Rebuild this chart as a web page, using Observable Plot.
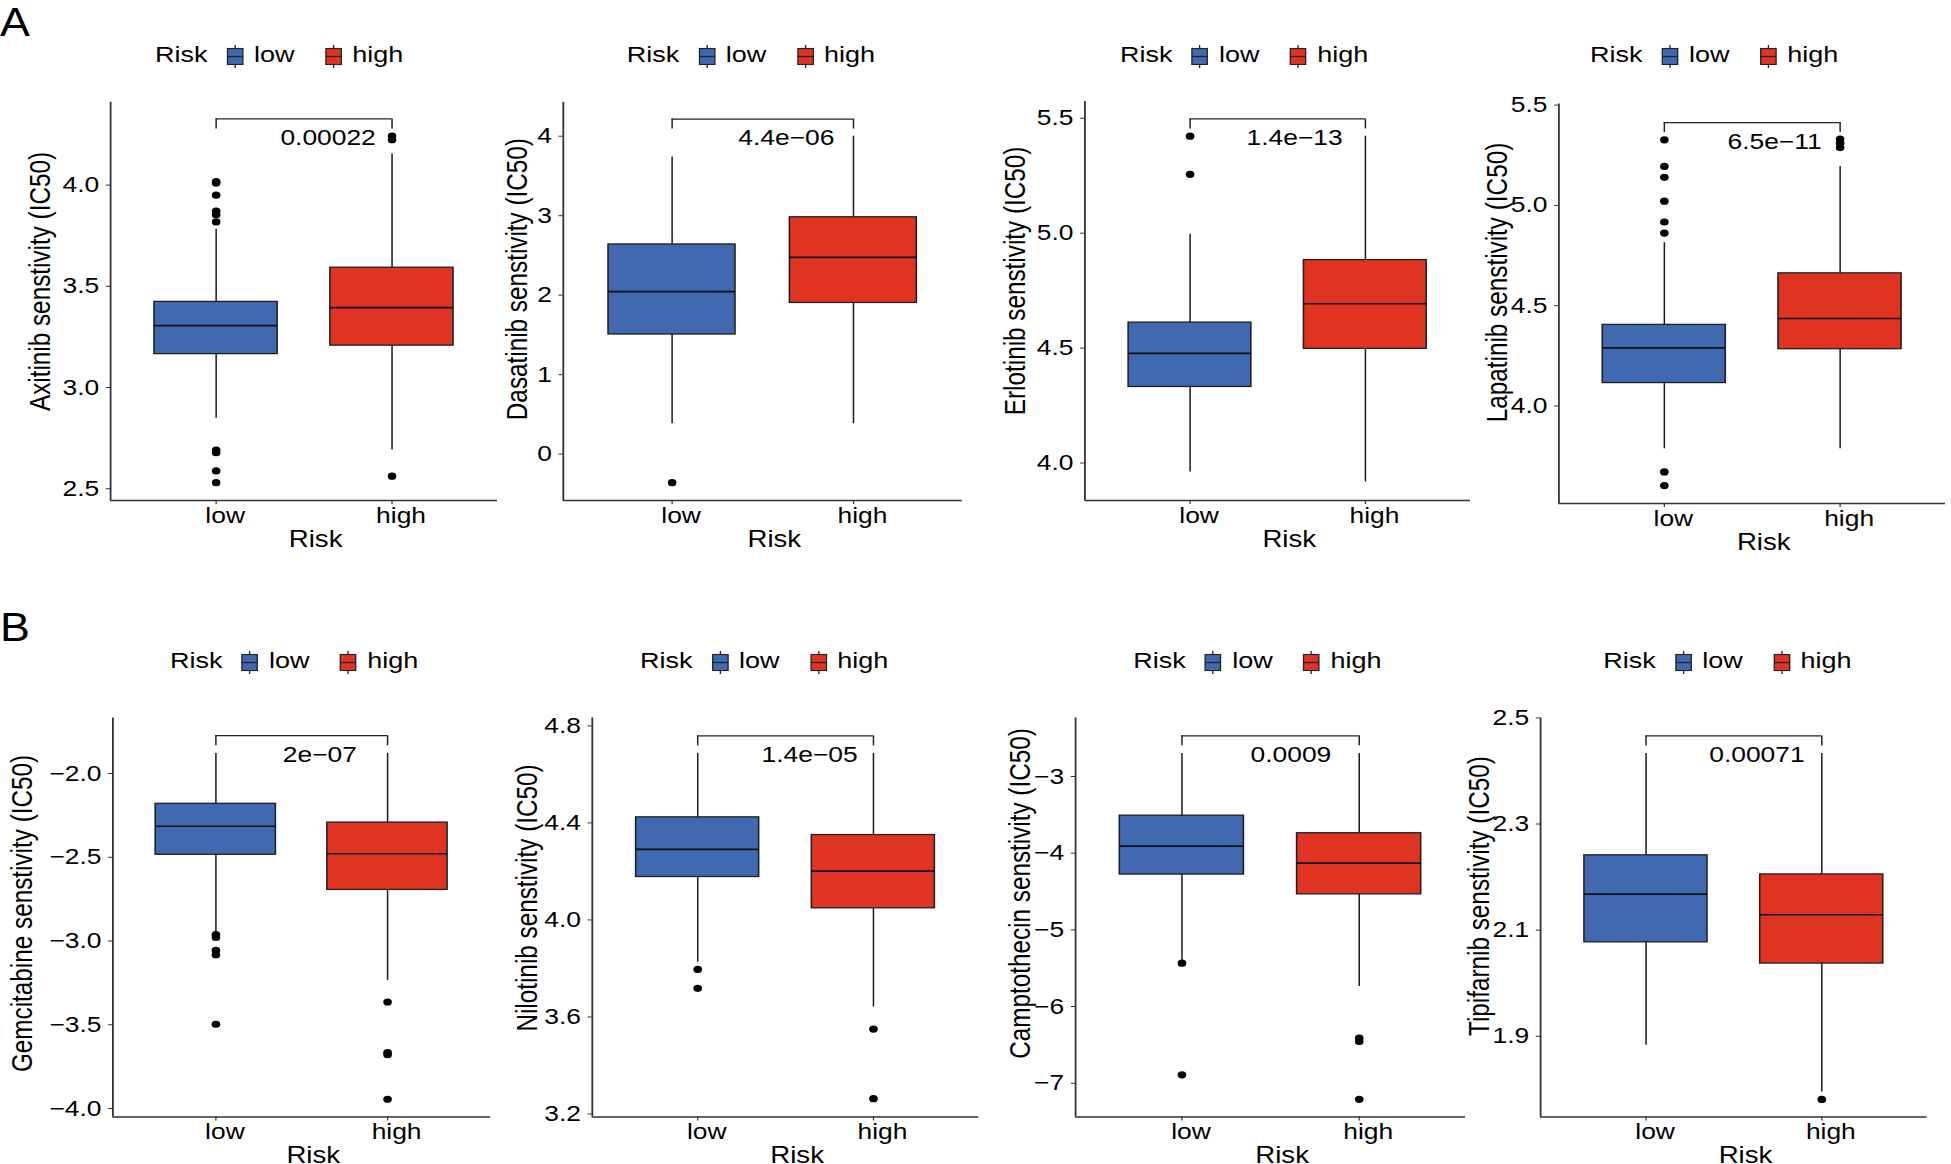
<!DOCTYPE html>
<html>
<head>
<meta charset="utf-8">
<script src="https://cdn.jsdelivr.net/npm/d3@7"></script>
<script src="https://cdn.jsdelivr.net/npm/@observablehq/plot@0.6"></script>
<style>
  html, body { margin: 0; padding: 0; background: #fff; }
  body { width: 1951px; height: 1164px; position: relative; overflow: hidden;
         font-family: "Liberation Sans", Arial, Helvetica, sans-serif; color: #000; }
  .panel { position: absolute; top: 0; height: 1164px; transform-origin: 0 0; }
  .panel svg.plotsvg { position: absolute; left: 0; max-width: none; overflow: visible; }
  .legend { position: absolute; height: 30px; font-size: 22.5px; line-height: 30px; white-space: nowrap; }
  .legend span { position: absolute; top: 0; }
  .legend svg { position: absolute; overflow: visible; }
  .tag { position: absolute; left: 0; font-size: 40px; line-height: 40px; transform: scaleX(1.12); transform-origin: 0 0; }
</style>
</head>
<body>
<div class="tag" style="top:2px">A</div>
<div class="tag" style="top:607px">B</div>
<script>
// ---------------- data ----------------
const drugs = ["Axitinib", "Dasatinib", "Erlotinib", "Lapatinib",
               "Gemcitabine", "Nilotinib", "Camptothecin", "Tipifarnib"];
const riskGroups = ["low", "high"];
const pLabels = ["0.00022", "4.4e\u221206", "1.4e\u221213", "6.5e\u221211",
                 "2e\u221207", "1.4e\u221205", "0.0009", "0.00071"];

const lowQ1          = [3.165, 1.505, 4.331, 4.114, -2.485, 4.177, -4.279, 2.077];
const lowMedian      = [3.306, 2.044, 4.477, 4.289, -2.315, 4.291, -3.907, 2.168];
const lowQ3          = [3.423, 2.638, 4.611, 4.404, -2.181, 4.423, -3.511, 2.241];
const lowWhiskerMin  = [2.848, 0.382, 3.961, 3.786, -2.951, 3.826, -5.396, 1.883];
const lowWhiskerMax  = [3.782, 3.740, 4.995, 4.814, -1.880, 4.687, -2.699, 2.433];
const lowOutliers = [
  [4.017, 4.010, 3.950, 3.871, 3.853, 3.818, 2.691, 2.678, 2.588, 2.530],
  [-0.36],
  [5.422, 5.256],
  [5.327, 5.194, 5.140, 5.021, 4.917, 4.862, 3.671, 3.603],
  [-2.962, -2.979, -3.056, -3.082, -3.497],
  [3.796, 3.718],
  [-5.434, -6.890],
  []
];

const highQ1         = [3.207, 1.902, 4.497, 4.283, -2.695, 4.048, -4.537, 2.037];
const highMedian     = [3.395, 2.476, 4.693, 4.436, -2.479, 4.201, -4.131, 2.129];
const highQ3         = [3.592, 2.980, 4.883, 4.661, -2.293, 4.350, -3.740, 2.205];
const highWhiskerMin = [2.692, 0.382, 3.918, 3.786, -3.235, 3.641, -5.740, 1.795];
const highWhiskerMax = [4.154, 4.000, 5.422, 5.194, -1.880, 4.687, -2.699, 2.433];
const highOutliers = [
  [4.242, 4.224, 2.562],
  [],
  [],
  [5.331, 5.310, 5.288],
  [-3.364, -3.666, -3.679, -3.945],
  [3.550, 3.263],
  [-6.413, -6.456, -7.210],
  [1.781]
];

const bracketY = [4.327, 4.216, 5.497, 5.413, -1.774, 4.759, -2.470, 2.466];
const yTicks = [[2.5, 3, 3.5, 4], [0, 1, 2, 3, 4], [4, 4.5, 5, 5.5], [4, 4.5, 5, 5.5],
                [-4, -3.5, -3, -2.5, -2], [3.2, 3.6, 4, 4.4, 4.8], [-7, -6, -5, -4, -3], [1.9, 2.1, 2.3, 2.5]];
const yTickDecimals = [1, 0, 1, 1, 1, 1, 0, 1];
const yDomain = [[2.442, 4.409], [-0.584, 4.427], [3.837, 5.573], [3.514, 5.505],
                 [-4.05, -1.668], [3.188, 4.833], [-7.439, -2.236], [1.748, 2.5]];

// ---------------- layout (reference pixels) ----------------
const S = 1.2; // horizontal stretch of the reference figure
const colors = ["#4069B2", "#E03423"];
const layout = [
  {left: 0,    width: 505, axisL: 110,    axisR: 497,    axisT: 101.8, axisB: 500,    titleX: 40,     titleCY: 281,   legendX: 155,    labelCX: 327.5},
  {left: 490,  width: 480, axisL: 562.7,  axisR: 961.7,  axisT: 101.8, axisB: 500,    titleX: 516.7,  titleCY: 278.6, legendX: 626.7,  labelCX: 785.8},
  {left: 980,  width: 492, axisL: 1084.3, axisR: 1470,   axisT: 101,   axisB: 500,    titleX: 1015,   titleCY: 280.4, legendX: 1120,   labelCX: 1294},
  {left: 1472, width: 479, axisL: 1558.3, axisR: 1945,   axisT: 103.6, axisB: 502.9,  titleX: 1496.7, titleCY: 282,   legendX: 1590,   labelCX: 1774},
  {left: 0,    width: 500, axisL: 112.3,  axisR: 490,    axisT: 717.4, axisB: 1116.4, titleX: 22.5,   titleCY: 913,   legendX: 170,    labelCX: 319.3},
  {left: 490,  width: 490, axisL: 591.7,  axisR: 978.3,  axisT: 717.4, axisB: 1116.4, titleX: 526.7,  titleCY: 897.5, legendX: 640,    labelCX: 809},
  {left: 980,  width: 486, axisL: 1075,   axisR: 1465,   axisT: 717.4, axisB: 1116.4, titleX: 1020,   titleCY: 893,   legendX: 1133.3, labelCX: 1290.3},
  {left: 1464, width: 487, axisL: 1540,   axisR: 1926.7, axisT: 717.4, axisB: 1116.4, titleX: 1479.5, titleCY: 895.6, legendX: 1603.3, labelCX: 1756.3}
];
const rows = [{svgTop: 72, svgBottom: 564, legendY: 55}, {svgTop: 684, svgBottom: 1164, legendY: 660.5}];

function keyInner(color) {
  return `<line x1="7" x2="7" y1="0" y2="23" stroke="#222" stroke-width="1.1"/>
    <rect x="0.6" y="3.5" width="12.8" height="16" fill="${color}" stroke="#222" stroke-width="1.1"/>
    <line x1="0.6" x2="13.4" y1="11.5" y2="11.5" stroke="#222" stroke-width="1.3"/>`;
}

drugs.forEach((drug, i) => {
  const L = layout[i];
  const R = rows[i < 4 ? 0 : 1];
  const W = L.width / S;
  const H = R.svgBottom - R.svgTop;
  const mt = L.axisT - R.svgTop, mb = R.svgBottom - L.axisB;
  const ml = (L.axisL - L.left) / S, mr = (L.left + L.width - L.axisR) / S;
  const [d0, d1] = yDomain[i];
  const pxPerUnit = (L.axisB - L.axisT) / (d1 - d0);
  const tickEnd = bracketY[i] - 10 / pxPerUnit;

  const boxes = [
    {group: "low",  pos: 1, q1: lowQ1[i],  median: lowMedian[i],  q3: lowQ3[i],  wmin: lowWhiskerMin[i],  wmax: lowWhiskerMax[i]},
    {group: "high", pos: 2, q1: highQ1[i], median: highMedian[i], q3: highQ3[i], wmin: highWhiskerMin[i], wmax: highWhiskerMax[i]}
  ];
  const outliers = [
    ...lowOutliers[i].map(v => ({group: "low", pos: 1, value: v})),
    ...highOutliers[i].map(v => ({group: "high", pos: 2, value: v}))
  ];
  const midX = (L.axisL + L.axisR) / 2;

  const svg = Plot.plot({
    width: W, height: H,
    marginTop: mt, marginBottom: mb, marginLeft: ml, marginRight: mr,
    style: {fontFamily: "'Liberation Sans', Arial, Helvetica, sans-serif", color: "#000", background: "transparent", overflow: "visible"},
    x: {domain: [0.4, 2.6]},
    y: {domain: [d0, d1]},
    color: {domain: riskGroups, range: colors},
    marks: [
      Plot.ruleX(boxes, {x: "pos", y1: "wmin", y2: "wmax", stroke: "#1a1a1a", strokeWidth: 1.25}),
      Plot.rect(boxes, {x1: d => d.pos - 0.35, x2: d => d.pos + 0.35, y1: "q1", y2: "q3", fill: "group", stroke: "#1f1f1f", strokeWidth: 1.3}),
      Plot.ruleY(boxes, {y: "median", x1: d => d.pos - 0.35, x2: d => d.pos + 0.35, stroke: "#111", strokeWidth: 1.7}),
      Plot.dot(outliers, {x: "pos", y: "value", r: 3.6, fill: "#000"}),
      Plot.ruleY([bracketY[i]], {x1: 1, x2: 2, stroke: "#222", strokeWidth: 1.25}),
      Plot.ruleX([1, 2], {x: d => d, y1: () => bracketY[i], y2: () => tickEnd, stroke: "#222", strokeWidth: 1.25}),
      Plot.text([pLabels[i]], {x: () => 1.5, y: () => bracketY[i], text: d => d, textAnchor: "middle", lineAnchor: "middle",
        dy: 19, dx: (L.labelCX - midX) / S, fontSize: 22}),
      Plot.axisY({ticks: yTicks[i], tickFormat: d3.format(`.${yTickDecimals[i]}f`), tickSize: 3.5, tickPadding: 6, fontSize: 22, label: null, stroke: "#333"}),
      Plot.axisX({ticks: [1, 2], tickSize: 4, fill: "none", label: null, stroke: "#333"}),
      Plot.text(riskGroups, {x: (d, j) => j + 1, text: d => d, frameAnchor: "bottom", textAnchor: "middle", lineAnchor: "middle",
        dy: 15.5, dx: 7.5, fontSize: 22}),
      Plot.ruleX([0.4], {stroke: "#333", strokeWidth: 1.5}),
      Plot.ruleY([d0], {stroke: "#333", strokeWidth: 1.5}),
      Plot.text(["Risk"], {text: d => d, frameAnchor: "bottom", textAnchor: "middle", lineAnchor: "middle", dy: 39, dx: 9.6, fontSize: 23}),
      Plot.text([`${drug} senstivity (IC50)`], {text: d => d, frameAnchor: "left", rotate: -90, textAnchor: "middle", lineAnchor: "middle",
        dx: -(L.axisL - L.titleX) / S, dy: L.titleCY - (L.axisT + L.axisB) / 2, fontSize: 24.3})
    ]
  });
  svg.classList.add("plotsvg");
  svg.style.top = R.svgTop + "px";

  const panel = document.createElement("div");
  panel.className = "panel";
  panel.style.left = L.left + "px";
  panel.style.width = W + "px";
  panel.style.transform = `scaleX(${S})`;

  const leg = document.createElement("div");
  leg.className = "legend";
  leg.style.left = ((L.legendX - L.left) / S) + "px";
  leg.style.top = (R.legendY - 15) + "px";
  leg.innerHTML =
    `<span style="left:0">Risk</span>` +
    `<svg style="left:59.7px;top:5px" width="14" height="23">${keyInner(colors[0])}</svg>` +
    `<span style="left:82.5px">${riskGroups[0]}</span>` +
    `<svg style="left:141.7px;top:5px" width="14" height="23">${keyInner(colors[1])}</svg>` +
    `<span style="left:164.4px">${riskGroups[1]}</span>`;

  panel.appendChild(leg);
  panel.appendChild(svg);
  document.body.appendChild(panel);
});
</script>
</body>
</html>
